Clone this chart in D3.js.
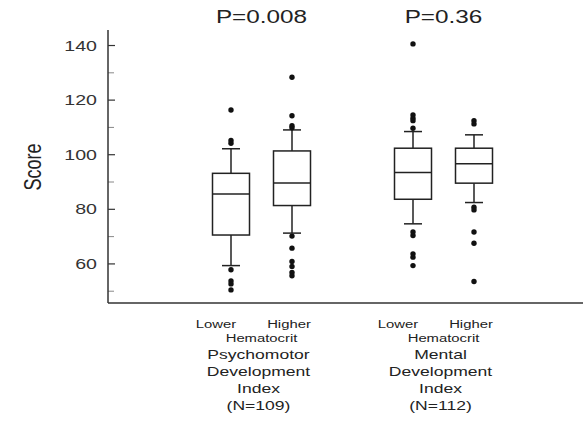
<!DOCTYPE html>
<html>
<head>
	<meta charset="utf-8">
	<script src="https://cdn.jsdelivr.net/npm/d3@7"></script>
	<style>
		body { margin: 0; background: #fff; }
		text { font-family: "Liberation Sans", Arial, sans-serif; fill: #222; }
	</style>
</head>
<body>
	<svg id="chart" width="583" height="424"></svg>

	<script type="text/javascript">
		// groups and hematocrit subgroups
		var groups = ['Psychomotor', 'Mental'];
		var subgroups = ['Lower', 'Higher'];
		var pValues = ['P=0.008', 'P=0.36'];
		var groupTitles = [
			['Psychomotor', 'Development', 'Index', '(N=109)'],
			['Mental', 'Development', 'Index', '(N=112)']
		];

		// box stats, order: Psych lower, Psych higher, Mental lower, Mental higher
		var whiskerLow = [59.2, 71.1, 74.5, 82.3];
		var q1 = [70.4, 81.2, 83.5, 89.4];
		var median = [85.4, 89.5, 93.3, 96.5];
		var q3 = [93.0, 101.2, 102.2, 102.2];
		var whiskerHigh = [102, 108.9, 108.3, 107.1];
		var outliers = [
			[116.2, 105, 104, 57.7, 53.6, 52.5, 50.3],
			[128.2, 114.1, 110.4, 109.7, 70, 65.6, 60.7, 58.9, 56.7, 55.5],
			[140.4, 114.4, 113.2, 112.3, 109.5, 71.5, 70.2, 63.5, 62.3, 59.2],
			[112.3, 111.1, 80.6, 79.6, 71.5, 67.4, 53.4]
		];

		var majorTicks = [60, 80, 100, 120, 140];
		var minorTicks = [50, 70, 90, 110, 130];

		var svg = d3.select('#chart');
		var plotLeft = 108, plotRight = 583, plotTop = 30, plotBottom = 303;
		var sx = 1.35; // the picture is stretched sideways

		var y = d3.scaleLinear().domain([45.5, 145.5]).range([plotBottom, plotTop]);
		var x = d3.scalePoint().domain(groups).range([261.5, 443.5]);
		var xs = d3.scalePoint().domain(subgroups).range([-30.5, 30.5]);

		var boxes = [];
		groups.forEach((g, gi) => subgroups.forEach((s, si) => {
			var i = gi * 2 + si;
			boxes.push({
				g: g, s: s, wl: whiskerLow[i], q1: q1[i], med: median[i],
				q3: q3[i], wh: whiskerHigh[i], out: outliers[i]
			});
		}));

		function stretchText(sel, tx, ty, txt, size, anchor) {
			return sel.append('text')
				.attr('transform', 'translate(' + tx + ',' + ty + ') scale(' + sx + ',1)')
				.attr('text-anchor', anchor || 'middle')
				.style('font-size', size + 'px')
				.text(txt);
		}

		// y axis, ticks point inward
		var yAxis = svg.append('g')
			.attr('transform', 'translate(' + plotLeft + ',0)')
			.call(d3.axisLeft(y).tickValues(majorTicks).tickSizeInner(-7).tickSizeOuter(0).tickPadding(11));
		yAxis.select('.domain').remove();
		yAxis.selectAll('line').attr('stroke', '#333').attr('stroke-width', 1.2);
		yAxis.selectAll('text')
			.attr('x', null).attr('dy', '0.36em')
			.attr('transform', 'translate(-11,0) scale(' + (sx + 0.05) + ',1)')
			.style('font-size', '14px').style('fill', '#333');
		yAxis.attr('font-family', null).attr('font-size', null);

		var yMinor = svg.append('g')
			.attr('transform', 'translate(' + plotLeft + ',0)')
			.call(d3.axisLeft(y).tickValues(minorTicks).tickSizeInner(-6).tickSizeOuter(0).tickFormat(''));
		yMinor.select('.domain').remove();
		yMinor.selectAll('line').attr('stroke', '#888').attr('stroke-width', 1);

		svg.append('line')
			.attr('x1', plotLeft).attr('x2', plotLeft).attr('y1', plotTop).attr('y2', plotBottom)
			.attr('stroke', '#333').attr('stroke-width', 1.5);
		svg.append('line')
			.attr('x1', plotLeft).attr('x2', plotRight).attr('y1', plotBottom).attr('y2', plotBottom)
			.attr('stroke', '#333').attr('stroke-width', 1.5);

		// Score label
		svg.append('text')
			.attr('transform', 'translate(41,167) scale(' + sx + ',1) rotate(-90)')
			.attr('text-anchor', 'middle')
			.style('font-size', '18px')
			.text('Score');

		var boxW = 37, capW = 18;
		var bx = d => x(d.g) + xs(d.s);

		var b = svg.append('g').selectAll('g')
			.data(boxes)
			.enter()
			.append('g')
			.attr('stroke', '#222')
			.attr('stroke-width', 1.5)
			.attr('fill', 'none');

		b.append('line')
			.attr('x1', bx).attr('x2', bx)
			.attr('y1', d => y(d.wh)).attr('y2', d => y(d.q3));
		b.append('line')
			.attr('x1', bx).attr('x2', bx)
			.attr('y1', d => y(d.q1)).attr('y2', d => y(d.wl));
		b.append('line')
			.attr('x1', d => bx(d) - capW / 2).attr('x2', d => bx(d) + capW / 2)
			.attr('y1', d => y(d.wh)).attr('y2', d => y(d.wh));
		b.append('line')
			.attr('x1', d => bx(d) - capW / 2).attr('x2', d => bx(d) + capW / 2)
			.attr('y1', d => y(d.wl)).attr('y2', d => y(d.wl));
		b.append('rect')
			.attr('x', d => bx(d) - boxW / 2).attr('width', boxW)
			.attr('y', d => y(d.q3)).attr('height', d => y(d.q1) - y(d.q3))
			.attr('fill', '#fff');
		b.append('line')
			.attr('x1', d => bx(d) - boxW / 2).attr('x2', d => bx(d) + boxW / 2)
			.attr('y1', d => y(d.med)).attr('y2', d => y(d.med));

		b.selectAll('circle')
			.data(d => d.out.map(v => ({ x: bx(d), v: v })))
			.enter()
			.append('circle')
			.attr('cx', d => d.x).attr('cy', d => y(d.v))
			.attr('r', 2.7)
			.attr('stroke', 'none')
			.attr('fill', '#111');

		// labels
		groups.forEach((g, gi) => {
			stretchText(svg, x(g), 23, pValues[gi], 18);
			stretchText(svg, x(g) + xs('Lower') - 15, 328, 'Lower', 11);
			stretchText(svg, x(g) + xs('Higher') - 3, 328, 'Higher', 11);
			stretchText(svg, x(g), 342, 'Hematocrit', 11);
			groupTitles[gi].forEach((t, li) => {
				stretchText(svg, x(g) - 3, 359 + li * 17, t, 13);
			});
		});
	</script>
</body>
</html>
